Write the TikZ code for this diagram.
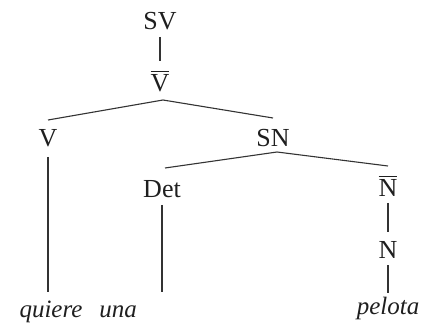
\documentclass[tikz,border=0pt]{standalone}
\usepackage{fontspec}
\setmainfont{Liberation Serif}
\usetikzlibrary{calc}
\newcommand{\barred}[1]{\vbox{\hrule height 1pt\kern 3.2pt\hbox{#1}}}
\begin{document}
\begin{tikzpicture}[x=1pt,y=1pt,
  lab/.style={inner sep=0pt,anchor=base,text=black!88,font=\fontsize{26}{30}\selectfont},
  word/.style={lab,font=\fontsize{25}{30}\selectfont\itshape},
  edge/.style={line width=1.1pt,draw=black!80}]
\useasboundingbox (0,0) rectangle (428,324);
\node[lab] (SV) at (160,294) {SV};
\node[lab] (Vbar) at (160,232) {\barred{V}};
\node[lab] (V) at (48,177) {V};
\node[lab] (SN) at (273,177) {SN};
\node[lab] (Det) at (162,126) {Det};
\node[lab] (Nbar) at (388,127) {\barred{N}};
\node[lab] (N) at (388,66) {N};
\node[word] (quiere) at (51,7) {quiere};
\node[word] (una) at (118,7) {una};
\node[word] (pelota) at (388,10) {pelota};
\draw[edge] ($(SV.base)+(0,-7)$) -- ($(Vbar.base)+(0,31)$);
\draw[edge] ($(Vbar.base)+(3,-8)$) -- ($(V.base)+(0,27)$);
\draw[edge] ($(Vbar.base)+(3,-8)$) -- ($(SN.base)+(0,29)$);
\draw[edge] ($(V.base)+(0,-10)$) -- ($(V.base |- quiere.base)+(0,25)$);
\draw[edge] ($(SN.base)+(4,-5)$) -- ($(Det.base)+(3,30)$);
\draw[edge] ($(SN.base)+(4,-5)$) -- ($(Nbar.base)+(0,31)$);
\draw[edge] ($(Det.base)+(0,-7)$) -- ($(Det.base |- una.base)+(0,25)$);
\draw[edge] ($(Nbar.base)+(0,-6)$) -- ($(N.base)+(0,26)$);
\draw[edge] ($(N.base)+(0,-7)$) -- ($(pelota.base)+(0,21)$);
\end{tikzpicture}
\end{document}
